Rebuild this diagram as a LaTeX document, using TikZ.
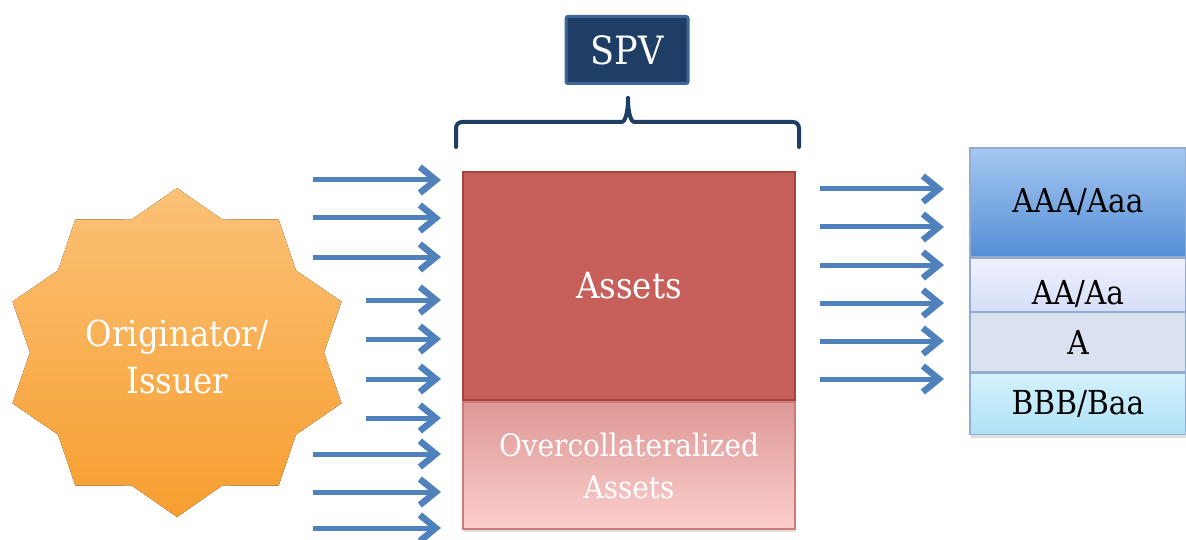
\documentclass[tikz,border=0pt]{standalone}
\usepackage{fontspec}
\setmainfont{DejaVu Serif Condensed}
\usetikzlibrary{arrows.meta,positioning,shadows}

\definecolor{flowblue}{RGB}{79,129,189}
\definecolor{spvfill}{RGB}{31,62,102}
\definecolor{spvedge}{RGB}{62,102,150}
\definecolor{startop}{RGB}{251,193,118}
\definecolor{starbot}{RGB}{247,158,48}
\definecolor{assetfill}{RGB}{199,96,91}
\definecolor{assetedge}{RGB}{168,68,62}
\definecolor{overtop}{RGB}{221,152,150}
\definecolor{overbot}{RGB}{251,207,205}
\definecolor{overedge}{RGB}{206,122,120}
\definecolor{aaatop}{RGB}{166,200,242}
\definecolor{aaabot}{RGB}{84,142,214}
\definecolor{aatop}{RGB}{238,241,253}
\definecolor{aabot}{RGB}{206,216,246}
\definecolor{afill}{RGB}{219,226,239}
\definecolor{bbbtop}{RGB}{212,241,252}
\definecolor{bbbbot}{RGB}{176,226,246}
\definecolor{trancheedge}{RGB}{148,172,208}

\tikzset{
  flow/.style={draw=flowblue, line width=5pt,
    -{Straight Barb[length=16pt,width=26pt,line width=6.5pt]}},
  bigtext/.style={text=white, font=\fontsize{36}{47}\selectfont, align=center},
  spvbox/.style={bigtext, font=\fontsize{39}{47}\selectfont, fill=spvfill, draw=spvedge,
    line width=3pt, rounded corners=2pt, minimum width=122pt, minimum height=67pt},
  brace/.style={draw=spvfill, line width=4pt, rounded corners=6pt, line cap=round},
  boxshadow/.style={drop shadow={opacity=0.25, shadow xshift=1pt, shadow yshift=-3pt}},
  assetbox/.style={bigtext, fill=assetfill, draw=assetedge, line width=2pt,
    minimum width=332pt, minimum height=228pt, boxshadow},
  overbox/.style={text=white, font=\fontsize{31}{42}\selectfont, align=center,
    top color=overtop, bottom color=overbot, draw=overedge, line width=2pt,
    minimum width=332pt, minimum height=127pt, boxshadow},
  tranche/.style={draw=trancheedge, line width=1.5pt, minimum width=216pt, inner sep=0pt,
    font=\fontsize{33}{38}\selectfont},
}

\begin{document}
\begin{tikzpicture}[x=1pt, y=-1pt]
\useasboundingbox (0,0) rectangle (1186,540);

% originator
\fill[top color=startop, bottom color=starbot]
  plot[domain=0:19, samples=20, variable=\k]
  ({177+173*(1-0.15*mod(round(\k),2))*cos(90+18*\k)},
   {352.5-164.5*(1-0.15*mod(round(\k),2))*sin(90+18*\k)}) -- cycle;
\node[bigtext] (orig) at (177,357) {Originator/\\Issuer};

% spv and its brace
\node[spvbox] (spv) at (627,50) {SPV};
\draw[brace] (456,147) |- (616,122) .. controls (624,122) and (628,116) .. (628,98);
\draw[brace] (799,147) |- (640,122) .. controls (632,122) and (628,116) .. (628,98);

% pool
\node[assetbox] (assets) at (629,286) {Assets};
\node[overbox, below=0pt of assets] (over) {Overcollateralized\\Assets};

% tranches
\node[tranche, top color=aaatop, bottom color=aaabot, minimum height=109pt, boxshadow] (aaa) at (1078,202.5) {AAA/Aaa};
\node[tranche, top color=aatop, bottom color=aabot, minimum height=72pt, below=0pt of aaa] (aa) {AA/Aa};
\node[tranche, fill=afill, minimum height=60pt, below=-20pt of aa] (a) {A};
\node[tranche, top color=bbbtop, bottom color=bbbbot, minimum height=61pt, below=0pt of a, boxshadow] (bbb) {BBB/Baa};

% cash flowing in
\foreach \y/\x [count=\i] in {180/313, 218/313, 257/313, 300/366, 339/366,
                             379/366, 418/366, 454/313, 492/313, 528/313} {
  \coordinate (src\i) at (\x,\y);
  \coordinate (dst\i) at (441,\y);
  \draw[flow] (src\i) -- (dst\i);
}

% cash flowing out
\foreach \y [count=\i] in {189, 227, 265, 303, 341, 379} {
  \coordinate (pay\i) at (820,\y);
  \coordinate (rcv\i) at (944,\y);
  \draw[flow] (pay\i) -- (rcv\i);
}
\end{tikzpicture}
\end{document}
